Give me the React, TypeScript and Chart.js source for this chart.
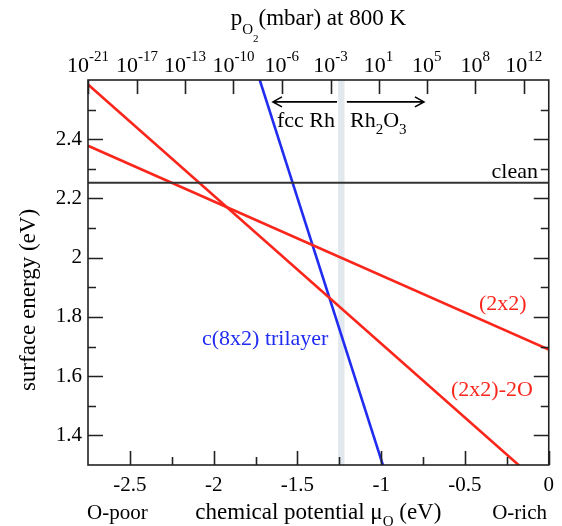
import React, { useEffect, useRef } from 'react';
import { Chart, registerables } from 'chart.js';

Chart.register(...registerables);

const FONT = '"Liberation Serif", "Times New Roman", serif';

// chemical potential range (eV) where each straight line is evaluated
const muRange = [-2.75, 0];
// surface energies (eV) at muRange ends
const cleanE = [2.253, 2.253];
const e2x2 = [2.378, 1.69];
const e2x2_2O = [2.585, 1.21];
const eC8x2 = [4.413, -0.451];

// axis ticks
const xMajorTicks = [-2.5, -2, -1.5, -1, -0.5, 0];
const xTickLabels = ['-2.5', '-2', '-1.5', '-1', '-0.5', '0'];
const xMinorTicks = [-2.25, -1.75, -1.25, -0.75, -0.25];
const yMajorTicks = [1.4, 1.6, 1.8, 2.0, 2.2, 2.4];
const yTickLabels = ['1.4', '1.6', '1.8', '2', '2.2', '2.4'];
const yMinorTicks = [1.5, 1.7, 1.9, 2.1, 2.3, 2.5];
// top axis: pO2 (mbar) at 800 K
const pressureTickMu = [-2.75, -2.458, -2.171, -1.882, -1.594, -1.302, -1.016, -0.728, -0.439, -0.149];
const pressureExponents = ['-21', '-17', '-13', '-10', '-6', '-3', '1', '5', '8', '12'];

// phase boundary fcc Rh / Rh2O3
const phaseBand = [-1.257, -1.219];
const arrowE = 2.526;
const arrowLeft = [-1.264, -1.646];
const arrowRight = [-1.205, -0.745];

const RED = 'rgb(250,38,28)';
const BLUE = 'rgb(32,44,240)';

type Part = { t: string; size: number; dy: number };

function drawRich(ctx: CanvasRenderingContext2D, parts: Part[], x: number, y: number, align: 'left' | 'center' | 'right', color: string) {
  ctx.save();
  ctx.fillStyle = color;
  ctx.textBaseline = 'alphabetic';
  ctx.textAlign = 'left';
  let total = 0;
  const widths = parts.map((p) => {
    ctx.font = `${p.size}px ${FONT}`;
    const w = ctx.measureText(p.t).width;
    total += w;
    return w;
  });
  let cx = align === 'left' ? x : align === 'center' ? x - total / 2 : x - total;
  parts.forEach((p, i) => {
    ctx.font = `${p.size}px ${FONT}`;
    ctx.fillText(p.t, cx, y + p.dy);
    cx += widths[i];
  });
  ctx.restore();
}

function arrow(ctx: CanvasRenderingContext2D, xFrom: number, xTo: number, y: number) {
  const dir = xTo > xFrom ? 1 : -1;
  ctx.beginPath();
  ctx.moveTo(xFrom, y);
  ctx.lineTo(xTo, y);
  ctx.moveTo(xTo - dir * 9, y - 5);
  ctx.lineTo(xTo, y);
  ctx.lineTo(xTo - dir * 9, y + 5);
  ctx.stroke();
}

const framePlugin = {
  id: 'frame',
  beforeDatasetsDraw(chart: any) {
    const { ctx, chartArea: a, scales } = chart;
    const x = scales.x;
    const x0 = x.getPixelForValue(phaseBand[0]);
    const x1 = x.getPixelForValue(phaseBand[1]);
    ctx.save();
    ctx.fillStyle = '#e1e9ee';
    ctx.fillRect(x0, a.top, x1 - x0, a.bottom - a.top);
    ctx.restore();
  },
  afterDraw(chart: any) {
    const { ctx, chartArea: a, scales } = chart;
    const x = scales.x;
    const y = scales.y;
    const xt = scales.xTop;
    ctx.save();
    ctx.strokeStyle = '#222';
    ctx.lineWidth = 1.6;
    ctx.strokeRect(a.left, a.top, a.right - a.left, a.bottom - a.top);
    ctx.beginPath();
    xMajorTicks.forEach((v) => {
      const px = Math.round(x.getPixelForValue(v)) + 0.5;
      ctx.moveTo(px, a.bottom);
      ctx.lineTo(px, a.bottom - 14);
    });
    xMinorTicks.forEach((v) => {
      const px = Math.round(x.getPixelForValue(v)) + 0.5;
      ctx.moveTo(px, a.bottom);
      ctx.lineTo(px, a.bottom - 8);
    });
    pressureTickMu.forEach((v) => {
      const px = Math.round(xt.getPixelForValue(v)) + 0.5;
      ctx.moveTo(px, a.top);
      ctx.lineTo(px, a.top + 14);
    });
    yMajorTicks.forEach((v) => {
      const py = Math.round(y.getPixelForValue(v)) + 0.5;
      ctx.moveTo(a.left, py);
      ctx.lineTo(a.left + 15, py);
      ctx.moveTo(a.right, py);
      ctx.lineTo(a.right - 15, py);
    });
    yMinorTicks.forEach((v) => {
      const py = Math.round(y.getPixelForValue(v)) + 0.5;
      ctx.moveTo(a.left, py);
      ctx.lineTo(a.left + 8, py);
      ctx.moveTo(a.right, py);
      ctx.lineTo(a.right - 8, py);
    });
    ctx.stroke();

    // phase arrows
    ctx.strokeStyle = '#000';
    ctx.lineWidth = 1.6;
    const ay = y.getPixelForValue(arrowE);
    arrow(ctx, x.getPixelForValue(arrowLeft[0]), x.getPixelForValue(arrowLeft[1]), ay);
    arrow(ctx, x.getPixelForValue(arrowRight[0]), x.getPixelForValue(arrowRight[1]), ay);
    ctx.restore();

    // top axis labels 10^n
    pressureTickMu.forEach((v, i) => {
      drawRich(ctx, [
        { t: '10', size: 22, dy: 0 },
        { t: pressureExponents[i], size: 15, dy: -11 },
      ], xt.getPixelForValue(v), 72, 'center', '#000');
    });
    // top axis title
    drawRich(ctx, [
      { t: 'p', size: 23, dy: 0 },
      { t: 'O', size: 15, dy: 9 },
      { t: '2', size: 11, dy: 17 },
      { t: '(mbar) at 800 K', size: 23, dy: 0 },
    ], (a.left + a.right) / 2, 25, 'center', '#000');

    // left axis title
    ctx.save();
    ctx.translate(35, 300);
    ctx.rotate(-Math.PI / 2);
    drawRich(ctx, [{ t: 'surface energy (eV)', size: 23, dy: 0 }], 0, 0, 'center', '#000');
    ctx.restore();

    // bottom titles
    drawRich(ctx, [{ t: 'O-poor', size: 21, dy: 0 }], 87, 519, 'left', '#000');
    drawRich(ctx, [{ t: 'O-rich', size: 21, dy: 0 }], 547, 519, 'right', '#000');
    drawRich(ctx, [
      { t: 'chemical potential \u03bc', size: 23, dy: 0 },
      { t: 'O', size: 15, dy: 7 },
      { t: ' (eV)', size: 23, dy: 0 },
    ], (a.left + a.right) / 2, 519, 'center', '#000');

    // annotations
    drawRich(ctx, [{ t: 'clean', size: 22, dy: 0 }], 538, 178, 'right', '#000');
    drawRich(ctx, [{ t: 'fcc Rh', size: 22, dy: 0 }], 277, 127, 'left', '#000');
    drawRich(ctx, [
      { t: 'Rh', size: 22, dy: 0 },
      { t: '2', size: 15, dy: 7 },
      { t: 'O', size: 22, dy: 0 },
      { t: '3', size: 15, dy: 7 },
    ], 350, 127, 'left', '#000');
    drawRich(ctx, [{ t: '(2x2)', size: 22, dy: 0 }], 479, 310, 'left', RED);
    drawRich(ctx, [{ t: '(2x2)-2O', size: 22, dy: 0 }], 451, 396, 'left', RED);
    drawRich(ctx, [{ t: 'c(8x2) trilayer', size: 22, dy: 0 }], 202, 345, 'left', BLUE);
  },
};

const pts = (ys: number[]) => muRange.map((m, i) => ({ x: m, y: ys[i] }));
const findLabel = (ticks: number[], labels: string[], v: number) => {
  const i = ticks.findIndex((t) => Math.abs(t - v) < 1e-9);
  return i >= 0 ? labels[i] : '';
};

export default function App() {
  const ref = useRef<HTMLCanvasElement>(null);
  useEffect(() => {
    const canvas = ref.current!;
    const chart = new Chart(canvas, {
      type: 'line',
      data: {
        datasets: [
          { label: 'clean', data: pts(cleanE), borderColor: '#333', borderWidth: 2, pointRadius: 0, xAxisID: 'x', yAxisID: 'y' },
          { label: '(2x2)', data: pts(e2x2), borderColor: RED, borderWidth: 2.6, pointRadius: 0, xAxisID: 'x', yAxisID: 'y' },
          { label: '(2x2)-2O', data: pts(e2x2_2O), borderColor: RED, borderWidth: 2.6, pointRadius: 0, xAxisID: 'x', yAxisID: 'y' },
          { label: 'c(8x2) trilayer', data: pts(eC8x2), borderColor: BLUE, borderWidth: 2.6, pointRadius: 0, xAxisID: 'x', yAxisID: 'y' },
        ],
      } as any,
      options: {
        responsive: false,
        animation: false,
        devicePixelRatio: 1,
        plugins: { legend: { display: false }, tooltip: { enabled: false } },
        layout: { padding: { left: 0, right: 13, top: 0, bottom: 0 } },
        scales: {
          x: {
            type: 'linear',
            position: 'bottom',
            min: -2.75,
            max: 0,
            afterBuildTicks: (s: any) => { s.ticks = xMajorTicks.map((v) => ({ value: v })); },
            afterFit: (s: any) => { s.height = 61; },
            grid: { display: false, drawTicks: false },
            border: { display: false },
            ticks: {
              autoSkip: false,
              maxRotation: 0,
              padding: 8,
              color: '#000',
              font: { family: FONT, size: 21 },
              callback: (v: any) => findLabel(xMajorTicks, xTickLabels, Number(v)),
            },
          },
          xTop: {
            type: 'linear',
            position: 'top',
            min: -2.75,
            max: 0,
            afterBuildTicks: (s: any) => { s.ticks = pressureTickMu.map((v) => ({ value: v })); },
            afterFit: (s: any) => { s.height = 80; },
            grid: { display: false, drawTicks: false },
            border: { display: false },
            ticks: { display: false },
          },
          y: {
            type: 'linear',
            position: 'left',
            min: 1.3,
            max: 2.6,
            afterBuildTicks: (s: any) => { s.ticks = yMajorTicks.map((v) => ({ value: v })); },
            afterFit: (s: any) => { s.width = 88; },
            grid: { display: false, drawTicks: false },
            border: { display: false },
            ticks: {
              padding: 6,
              color: '#000',
              font: { family: FONT, size: 21 },
              callback: (v: any) => findLabel(yMajorTicks, yTickLabels, Number(v)),
            },
            title: { display: false, text: 'surface energy (eV)' },
          },
        },
      } as any,
      plugins: [framePlugin],
    });
    return () => chart.destroy();
  }, []);
  return (
    <div style={{ position: 'fixed', left: 0, top: 0, width: 562, height: 526, background: '#fff' }}>
      <canvas ref={ref} width={562} height={526} style={{ display: 'block', width: 562, height: 526 }} />
    </div>
  );
}
